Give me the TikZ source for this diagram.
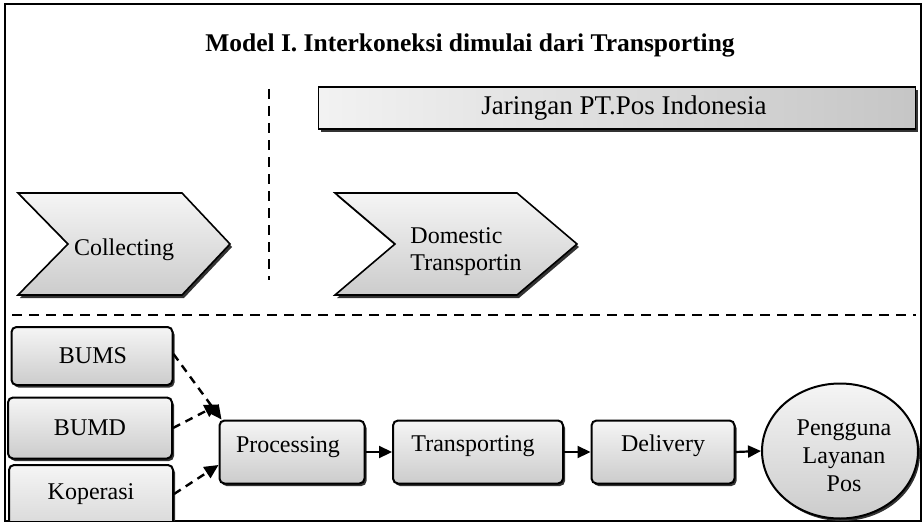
\documentclass[tikz,border=0pt]{standalone}
\usepackage{fontspec}
\setmainfont{Liberation Serif}
\usetikzlibrary{shapes.geometric,arrows.meta,shadows}
\begin{document}
\begin{tikzpicture}[x=1pt,y=-1pt,
  shade/.style={top color=gray!8,bottom color=gray!40},
  lbl/.style={font=\fontsize{24}{26}\selectfont},
  rbox/.style={draw,line width=2pt,rounded corners=5pt,shade,
    drop shadow={shadow xshift=2pt,shadow yshift=-2.5pt,opacity=1,fill=black!80},
    lbl},
  flow/.style={-{Triangle[length=13pt,width=12pt]},line width=2.2pt},
  dflow/.style={-{Triangle[length=14pt,width=13pt]},line width=2.4pt,dash pattern=on 8pt off 6pt},
  chev/.style={draw,line width=1.6pt,shade,
    drop shadow={shadow xshift=2pt,shadow yshift=-3pt,opacity=1,fill=black!80}},
  sepline/.style={line width=2pt,dash pattern=on 10pt off 7pt}]
\useasboundingbox (0,0) rectangle (923,524);
\fill[white] (0,0) rectangle (923,524);
\draw[line width=1.6pt] (5,4) rectangle (921,521);

% title
\node (title) at (470,45) {\fontsize{25.5}{28}\selectfont\bfseries Model I. Interkoneksi dimulai dari Transporting};

% network band
\node[draw,line width=1.6pt,left color=gray!10,right color=gray!45,
  drop shadow={shadow xshift=2pt,shadow yshift=-3pt,opacity=1,fill=black!80},
  minimum width=597pt,minimum height=42pt,inner sep=0pt] (net) at (617,108)
  {\hspace*{14pt}\fontsize{27}{29}\selectfont Jaringan PT.Pos Indonesia};

% chevrons
\draw[chev] (18,193) -- (182,193) -- (230,244) -- (182,295) -- (18,295) -- (68,244) -- cycle;
\node[lbl] (col) at (124,250) {Collecting};
\draw[chev] (335,193) -- (517,193) -- (577,244) -- (517,295) -- (335,295) -- (395,244) -- cycle;
\node[align=left,font=\fontsize{24}{27}\selectfont] (dom) at (466,252) {Domestic\\Transportin};

% separators
\coordinate (vtop) at (269,89);
\coordinate (vbot) at (269,280);
\draw[sepline] (vtop) -- (vbot);
\coordinate (hl) at (12,315);
\coordinate (hr) at (916,315);
\draw[sepline] (hl) -- (hr);

% sources
\node[rbox,minimum width=161pt,minimum height=58pt] (bums) at (92,356) {\hspace*{4pt}BUMS\hspace*{2pt}};
\node[rbox,minimum width=164pt,minimum height=61pt] (bumd) at (90,428) {\hspace*{2pt}BUMD\hspace*{2pt}};
\begin{scope}
\clip (5,4) rectangle (921,520);
\node[rbox,minimum width=164pt,minimum height=90pt] (kop) at (91,510) {};
\end{scope}
\node[lbl] (koplbl) at (91,494) {Koperasi};

% main chain
\node[rbox,minimum width=145pt,minimum height=63pt] (proc) at (292,452) {};
\node[lbl] (proclbl) at (288,447) {Processing};
\node[rbox,minimum width=170pt,minimum height=63pt] (trans) at (478,452) {};
\node[lbl] (translbl) at (473,446) {Transporting};
\node[rbox,minimum width=143pt,minimum height=63pt] (del) at (663,452) {};
\node[lbl] (dellbl) at (663,446) {Delivery};
\node[ellipse,draw,line width=2pt,shade,
  drop shadow={shadow xshift=2pt,shadow yshift=-2.5pt,opacity=1,fill=black!80},
  minimum width=156pt,minimum height=135pt,inner sep=0pt,align=center,
  font=\fontsize{24}{28}\selectfont] (user) at (840,451) {};
\node[align=center,font=\fontsize{24}{28}\selectfont] (userlbl) at (844,456) {Pengguna\\Layanan\\Pos};

\draw[flow] (proc.east) -- (trans.west);
\draw[flow] (trans.east) -- (del.west);
\draw[flow] (del.east) -- (user.west);

\draw[dflow] ([yshift=2pt]bums.east) -- ([xshift=3pt]proc.north west);
\draw[dflow] (bumd.east) -- ([yshift=15pt]proc.north west);
\draw[dflow] (kop.east |- koplbl) -- ([yshift=-13pt]proc.west);
\end{tikzpicture}
\end{document}
